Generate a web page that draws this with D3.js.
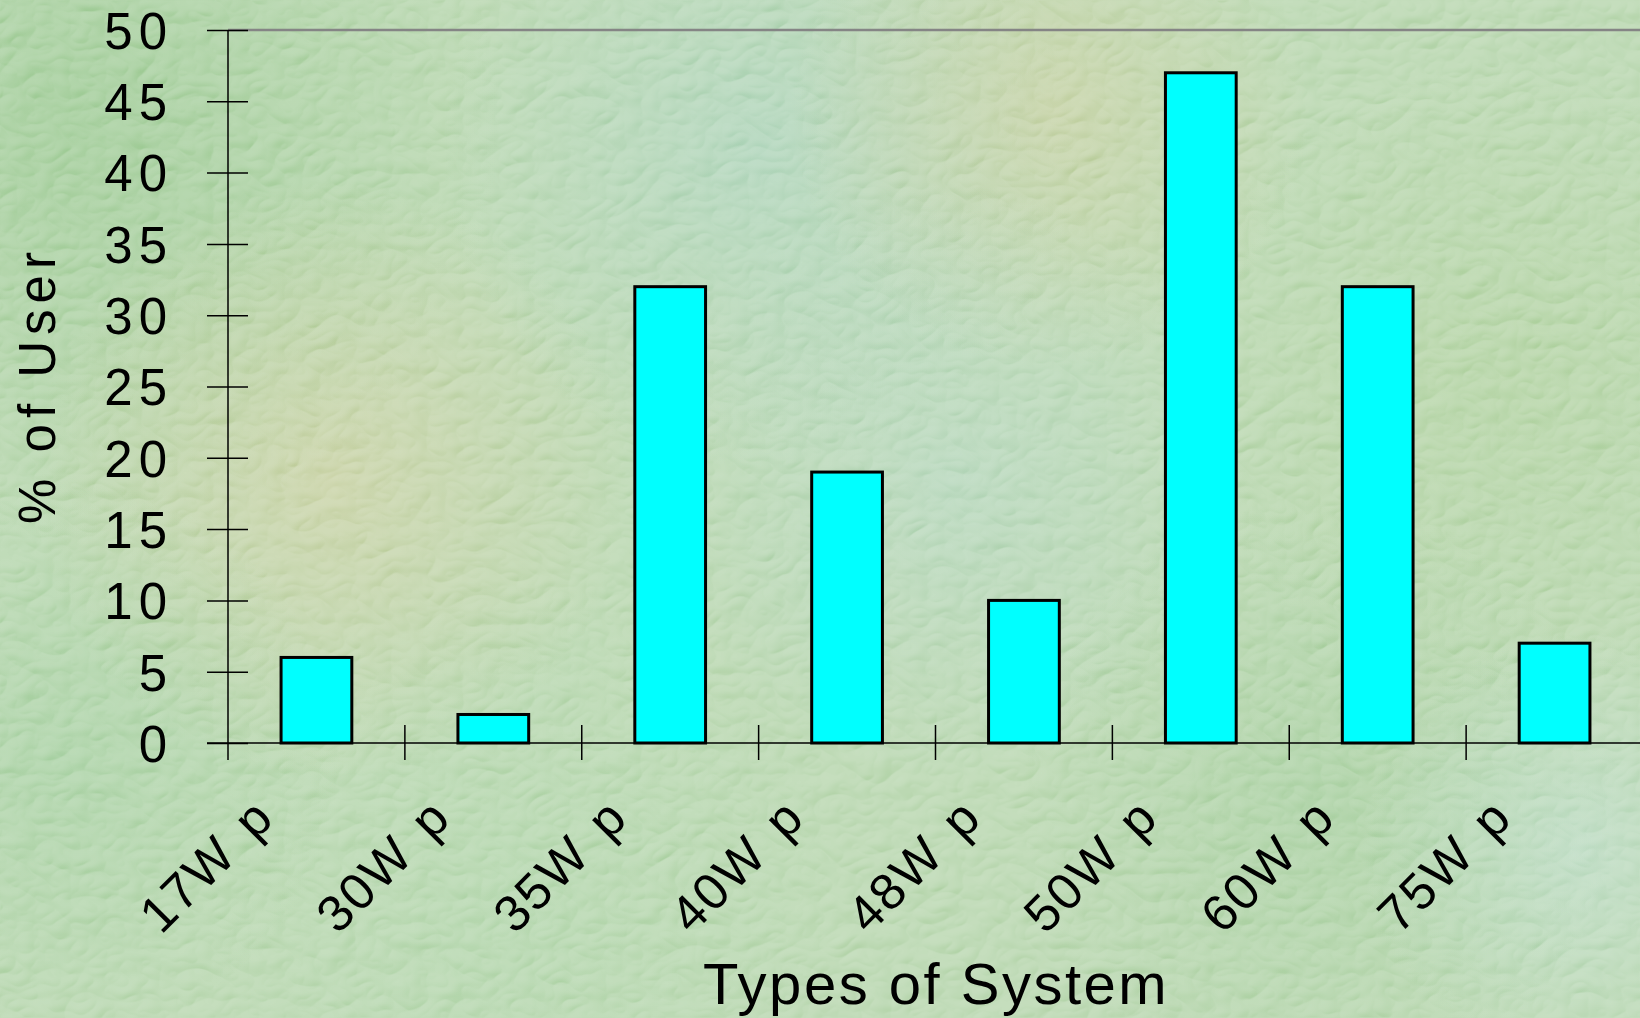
<!DOCTYPE html>
<html>
<head>
<meta charset="utf-8">
<script src="https://cdn.jsdelivr.net/npm/d3@7"></script>
<style>
  html, body { margin: 0; padding: 0; overflow: hidden; }
  svg { display: block; }
  text { font-family: "Liberation Sans", Arial, sans-serif; fill: #000; }
</style>
</head>
<body>
<div id="chart"></div>
<script>
// values
var categories = ["17W p", "30W p", "35W p", "40W p", "48W p", "50W p", "60W p", "75W p"];
var values = [6, 2, 32, 19, 10, 47, 32, 7];
var yTicks = [0, 5, 10, 15, 20, 25, 30, 35, 40, 45, 50];

var W = 1640, H = 1018;
var margin = {top: 30, right: -3, bottom: 275, left: 228};
var width = W - margin.left - margin.right,
    height = H - margin.top - margin.bottom;

var svg = d3.select("#chart").append("svg")
  .attr("width", W)
  .attr("height", H);

// background: pale mottled green, radial blobs + embossed noise
var defs = svg.append("defs");
var blobs = [
  {cx: 80,   cy: 120, r: 420, c: "#9ccb94", o: 0.7},
  {cx: 330,  cy: 480, r: 300, c: "#d6d2a4", o: 0.6},
  {cx: 760,  cy: 150, r: 320, c: "#acd6ca", o: 0.5},
  {cx: 1050, cy: 110, r: 260, c: "#d4d0a0", o: 0.5},
  {cx: 950,  cy: 480, r: 300, c: "#b8dace", o: 0.45},
  {cx: 1500, cy: 380, r: 320, c: "#b4d4a0", o: 0.55},
  {cx: 1320, cy: 800, r: 300, c: "#a4cf9e", o: 0.55},
  {cx: 1580, cy: 850, r: 220, c: "#c4e2d8", o: 0.5},
  {cx: 520,  cy: 900, r: 320, c: "#b2d8ae", o: 0.5},
  {cx: 60,   cy: 760, r: 280, c: "#a6d2a4", o: 0.6}
];
blobs.forEach(function(b, i) {
  var rg = defs.append("radialGradient").attr("id", "blob" + i);
  rg.append("stop").attr("offset", "0%").attr("stop-color", b.c).attr("stop-opacity", b.o);
  rg.append("stop").attr("offset", "100%").attr("stop-color", b.c).attr("stop-opacity", 0);
});

var emb = defs.append("filter").attr("id", "emboss")
  .attr("x", 0).attr("y", 0).attr("width", "100%").attr("height", "100%");
emb.append("feTurbulence").attr("type", "turbulence")
  .attr("baseFrequency", "0.028 0.04").attr("numOctaves", 2).attr("seed", 3)
  .attr("result", "noise");
emb.append("feDiffuseLighting").attr("in", "noise")
  .attr("surfaceScale", 4).attr("lighting-color", "#a8a8a8")
  .append("feDistantLight").attr("azimuth", 235).attr("elevation", 50);

svg.append("rect").attr("width", W).attr("height", H).attr("fill", "#bcd9b3");
svg.selectAll(".blob")
  .data(blobs)
  .enter().append("circle")
  .attr("class", "blob")
  .attr("cx", function(d) { return d.cx; })
  .attr("cy", function(d) { return d.cy; })
  .attr("r", function(d) { return d.r; })
  .attr("fill", function(d, i) { return "url(#blob" + i + ")"; });
svg.append("rect").attr("width", W).attr("height", H)
  .attr("filter", "url(#emboss)")
  .style("mix-blend-mode", "overlay")
  .attr("opacity", 0.5);

var g = svg.append("g")
  .attr("transform", "translate(" + margin.left + "," + margin.top + ")");

// scales
var x = d3.scaleBand()
  .domain(categories)
  .range([0, width])
  .paddingInner(0.6)
  .paddingOuter(0.3);

var y = d3.scaleLinear()
  .domain([0, 50])
  .range([height, 0]);

// grey frame line on top
g.append("line")
  .attr("x1", 0).attr("x2", width)
  .attr("y1", y(50)).attr("y2", y(50))
  .attr("stroke", "#858585")
  .attr("stroke-width", 2.5);

// bars
g.selectAll(".bar")
  .data(values)
  .enter().append("rect")
  .attr("class", "bar")
  .attr("x", function(d, i) { return x(categories[i]); })
  .attr("width", x.bandwidth())
  .attr("y", function(d) { return y(d); })
  .attr("height", function(d) { return height - y(d); })
  .attr("fill", "#00ffff")
  .attr("stroke", "#000")
  .attr("stroke-width", 3);

// y axis, ticks cross the line
var yAxis = g.append("g")
  .attr("class", "y axis")
  .call(d3.axisLeft(y).tickValues(yTicks).tickSize(21).tickPadding(0));
yAxis.select(".domain").remove();
yAxis.selectAll(".tick line")
  .attr("x1", 20).attr("x2", -21)
  .attr("stroke", "#000").attr("stroke-width", 1.5);
yAxis.selectAll(".tick text")
  .attr("x", -55)
  .attr("dy", "0.36em")
  .style("font-size", "51px")
  .style("letter-spacing", "6px")
  .style("font-family", "'Liberation Sans', Arial, sans-serif");

g.append("line")
  .attr("x1", 0).attr("x2", 0)
  .attr("y1", y(50)).attr("y2", height + 17)
  .attr("stroke", "#000").attr("stroke-width", 1.5);

// x axis line and boundary ticks
g.append("line")
  .attr("x1", -21).attr("x2", width)
  .attr("y1", height).attr("y2", height)
  .attr("stroke", "#000").attr("stroke-width", 1.5);

var step = x.step();
g.selectAll(".xtick")
  .data(d3.range(1, categories.length + 1))
  .enter().append("line")
  .attr("class", "xtick")
  .attr("x1", function(i) { return i * step; })
  .attr("x2", function(i) { return i * step; })
  .attr("y1", height - 18).attr("y2", height + 17)
  .attr("stroke", "#000").attr("stroke-width", 1.5);

// rotated category labels
g.selectAll(".xlabel")
  .data(categories)
  .enter().append("text")
  .attr("class", "xlabel")
  .attr("text-anchor", "end")
  .attr("transform", function(d) {
    var cx = x(d) + x.bandwidth() / 2 - 40;
    return "translate(" + cx + "," + (height + 77) + ") rotate(-45)";
  })
  .style("font-size", "51px")
  .style("letter-spacing", "2px")
  .style("word-spacing", "6px")
  .text(function(d) { return d; });

// axis titles
svg.append("text")
  .attr("text-anchor", "middle")
  .attr("transform", "translate(55,385) rotate(-90)")
  .style("font-size", "51px")
  .style("letter-spacing", "6px")
  .text("% of User");

svg.append("text")
  .attr("text-anchor", "middle")
  .attr("x", 936)
  .attr("y", 1004)
  .style("font-size", "58px")
  .style("letter-spacing", "2.5px")
  .text("Types of System");
</script>
</body>
</html>
